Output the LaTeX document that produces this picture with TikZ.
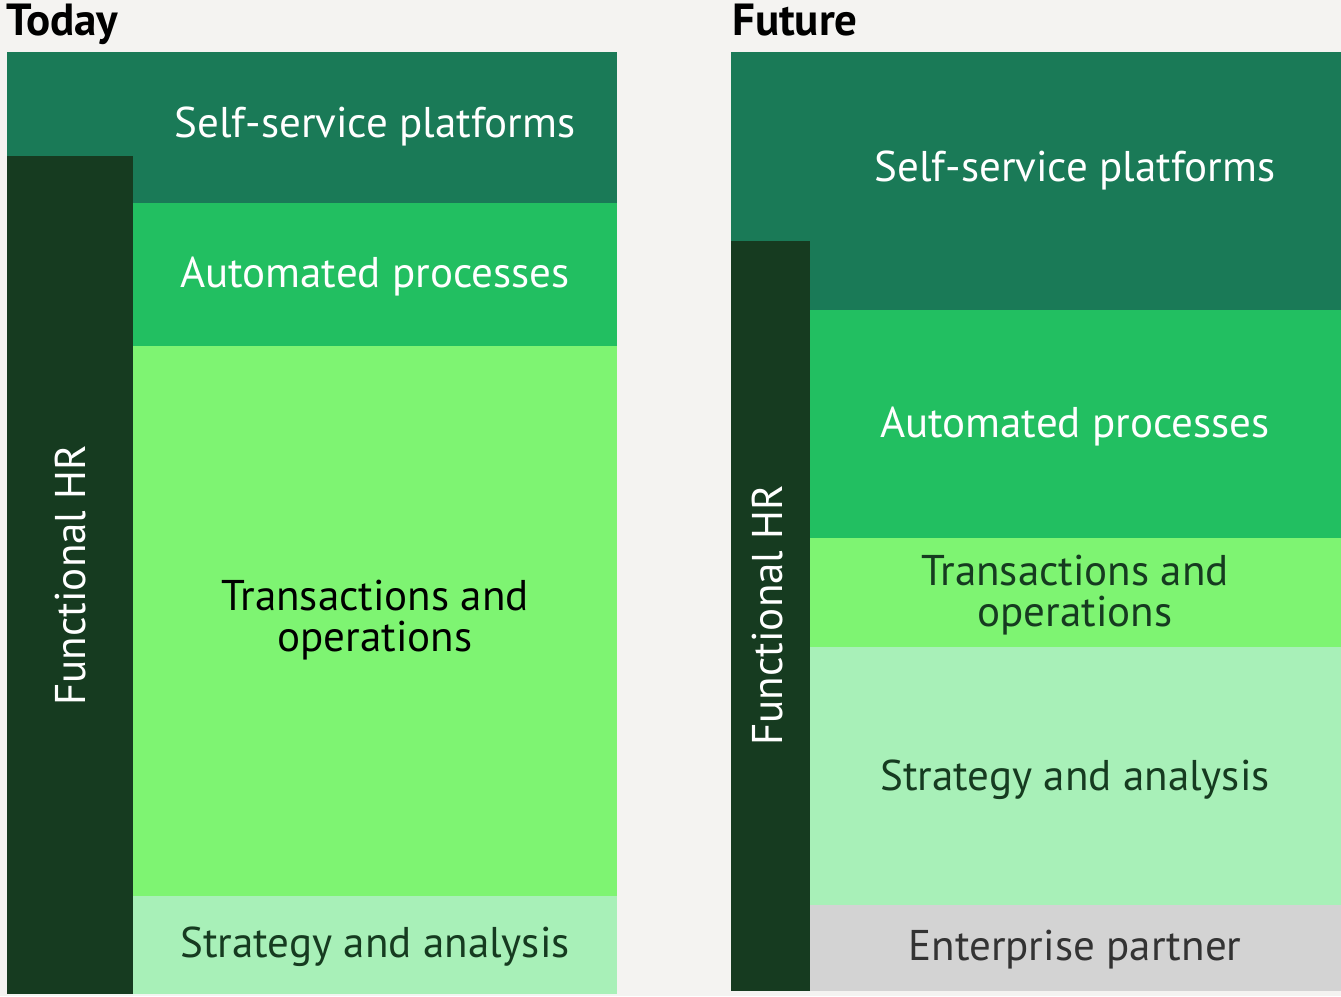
\documentclass[tikz,border=0pt]{standalone}
\usepackage{fontspec}
\setmainfont{PT Sans}

\definecolor{bg}{HTML}{F4F3F1}
\definecolor{hrdark}{HTML}{163B20}
\definecolor{selfgreen}{HTML}{1A7A57}
\definecolor{autogreen}{HTML}{22BF61}
\definecolor{transgreen}{HTML}{7EF472}
\definecolor{stratgreen}{HTML}{A8F0B8}
\definecolor{entgray}{HTML}{D3D3D3}
\definecolor{enttext}{HTML}{333333}

\begin{document}
\begin{tikzpicture}[x=1pt,y=-1pt]

      \fill[bg] (0,0) rectangle (1341,996);
      \useasboundingbox (0,0) rectangle (1341,996);

      % today
      \fill[selfgreen]  (7,52)    rectangle (617,203);
      \fill[autogreen]  (133,203) rectangle (617,346);
      \fill[transgreen] (133,346) rectangle (617,896);
      \fill[stratgreen] (133,896) rectangle (617,994);
      \fill[hrdark]     (7,156)   rectangle (133,994);

      % future
      \fill[selfgreen]  (731,52)  rectangle (1341,310);
      \fill[autogreen]  (810,310) rectangle (1341,538);
      \fill[transgreen] (810,538) rectangle (1341,647);
      \fill[stratgreen] (810,647) rectangle (1341,905);
      \fill[entgray]    (810,905) rectangle (1341,991);
      \fill[hrdark]     (731,241) rectangle (810,991);

      \begin{scope}[every node/.style={font=\fontsize{45}{45}\selectfont\bfseries, anchor=base west, inner sep=0pt}]
        \node (today)  at (6,35)   {Today};
        \node (future) at (732,35) {Future};
      \end{scope}

      \begin{scope}[every node/.style={font=\fontsize{43}{41}\selectfont, align=center, inner sep=0pt, anchor=base}]
        \node[white] (self1)  at (375,137)  {Self-service platforms};
        \node[white] (auto1)  at (375,287)  {Automated processes};
        \node        (trans1) at (375,651)  {Transactions and\\operations};
        \node[hrdark] (strat1) at (375,957) {Strategy and analysis};
        \node[white, rotate=90] (hr1) at (85,575) {Functional HR};

        \node[white] (self2)  at (1075,181) {Self-service platforms};
        \node[white] (auto2)  at (1075,437) {Automated processes};
        \node[hrdark] (trans2) at (1075,626) {Transactions and\\operations};
        \node[hrdark] (strat2) at (1075,790) {Strategy and analysis};
        \node[enttext] (ent2) at (1075,960) {Enterprise partner};
        \node[white, rotate=90] (hr2) at (782,615) {Functional HR};
      \end{scope}

    \end{tikzpicture}
\end{document}
